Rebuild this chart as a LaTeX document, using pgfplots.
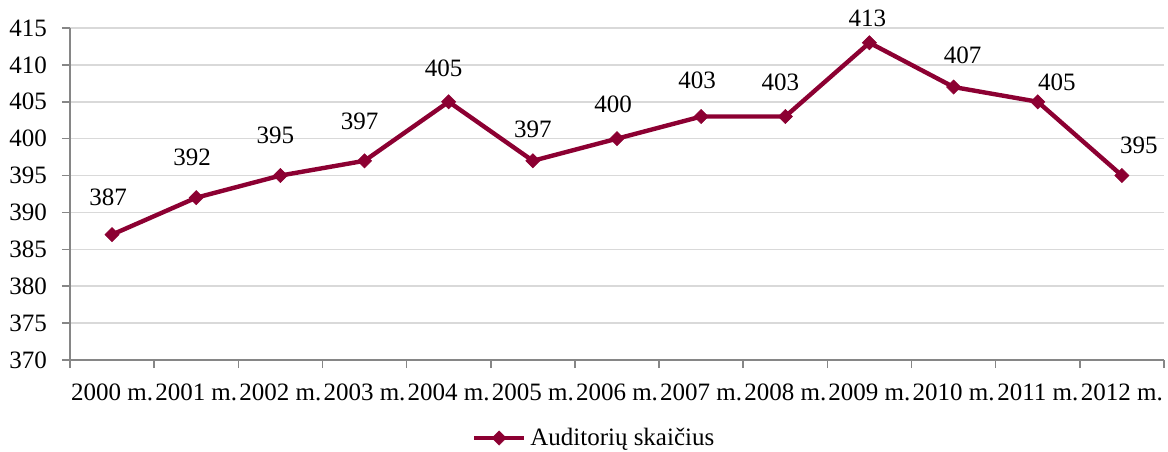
\documentclass[border=0pt]{standalone}
\usepackage{fontspec}
\setmainfont{Liberation Serif}
\usepackage{pgfplots}
\usepackage{pgfplotstable}
\pgfplotsset{compat=1.18}
\definecolor{lineRed}{RGB}{140,0,50}
\definecolor{axisGray}{RGB}{134,134,134}
\definecolor{gridGray}{RGB}{217,217,217}

% x, value, label shift (pt)
\pgfplotstableread{
x  y    dx    dy
0  387  -2    11
1  392  -2    12.5
2  395  -2.5  12.5
3  397  -2.5  12
4  405  -2.5  9
5  397  0     8
6  400  -2    9.5
7  403  -2    10.5
8  403  -2.5  9.5
9  413  -1    4.5
10 407  4.5   8
11 405  9.5   2
12 395  8.5   7.5
}\auditorijos

\begin{document}
\begin{tikzpicture}
\useasboundingbox (-35pt,-45.5pt) rectangle (549pt,180pt);
\begin{axis}[
  at={(0,0)}, anchor=south west,
  scale only axis,
  width=547pt, height=166pt,
  xmin=-0.5, xmax=12.5,
  ymin=370, ymax=415,
  ytick={370,375,...,415},
  xtick={-0.5,0.5,...,12.5},
  xticklabels={},
  extra x ticks={0,...,12},
  extra x tick labels={2000 m.,2001 m.,2002 m.,2003 m.,2004 m.,2005 m.,2006 m.,2007 m.,2008 m.,2009 m.,2010 m.,2011 m.,2012 m.},
  extra x tick style={major tick length=0pt},
  tick style={draw=axisGray, line width=0.8pt},
  xtick pos=bottom, ytick pos=left, tick align=outside,
  major tick length=4pt,
  axis x line*=bottom, axis y line*=left,
  axis line style={draw=axisGray, line width=0.8pt, -},
  ymajorgrids=true, grid style={draw=gridGray, line width=0.8pt},
  xticklabel style={font=\fontsize{12.5}{14}\selectfont, yshift=-8.5pt},
  yticklabel style={font=\fontsize{12.5}{14}\selectfont, xshift=-4pt},
  /pgf/number format/assume math mode=true,
  visualization depends on={\thisrow{dx} \as \labdx},
  visualization depends on={\thisrow{dy} \as \labdy},
  nodes near coords,
  nodes near coords style={font=\fontsize{12.5}{14}\selectfont, color=black,
                           xshift=\labdx pt, yshift=\labdy pt},
  legend style={at={(0.48,-0.235)}, anchor=center, draw=none, fill=none,
                font=\fontsize{12.5}{14}\selectfont, legend columns=1},
  legend cell align=left,
  legend image code/.code={
    \draw[mark repeat=2, mark phase=2] plot coordinates {(0pt,0pt) (12.5pt,0pt) (25pt,0pt)};},
  clip=false,
]
\addplot[color=lineRed, line width=2.2pt, mark=square*, mark size=2.5pt,
         mark options={fill=lineRed, draw=lineRed, line width=0.3pt, rotate=45}]
  table[x=x, y=y] {\auditorijos};
\addlegendentry{Auditorių skaičius}
\end{axis}
\end{tikzpicture}
\end{document}
